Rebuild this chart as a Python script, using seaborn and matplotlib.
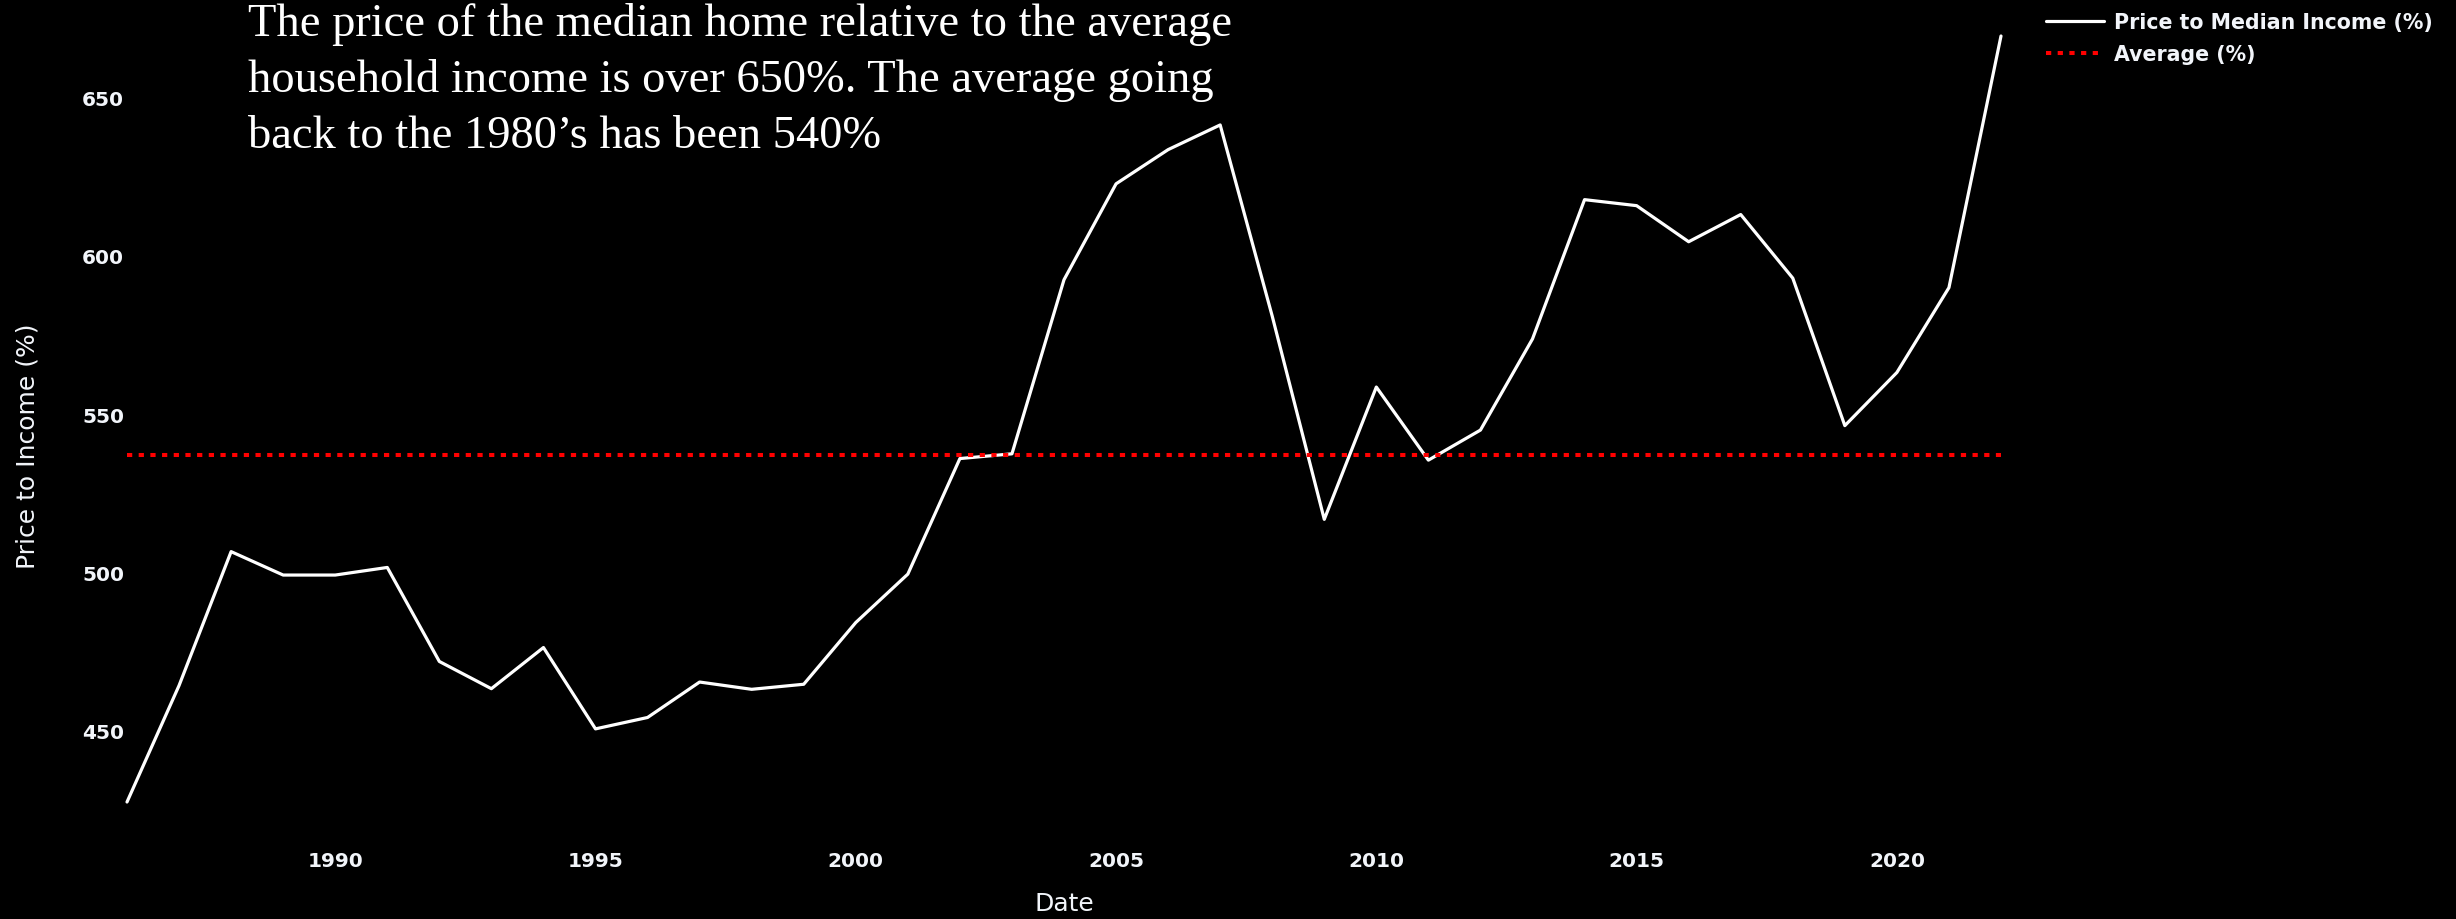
import numpy as np
import pandas as pd
import matplotlib
matplotlib.use("Agg")
import matplotlib.pyplot as plt
import seaborn as sns

# Annual price-to-income ratio (%) of the median home vs. household income
years = list(range(1986, 2023))
price_to_income = [427.5, 464.3, 506.6, 499.2, 499.2, 501.6, 471.9, 463.3, 476.3, 450.6,
                   454.2, 465.4, 463.1, 464.7, 484.2, 499.5, 536.0, 537.5, 592.5, 622.8,
                   633.6, 641.4, 581.0, 516.8, 558.6, 535.5, 545.0, 573.8, 617.8, 615.9,
                   604.5, 613.1, 593.0, 546.4, 563.2, 590.0, 669.5]
x_ticks = [1990, 1995, 2000, 2005, 2010, 2015, 2020]
y_ticks = [450, 500, 550, 600, 650]

series_label = "Price to Median Income (%)"
avg_label = "Average (%)"
x_title = "Date"
y_title = "Price to Income (%)"
note_lines = [
    "The price of the median home relative to the average",
    "household income is over 650%. The average going",
    "back to the 1980\u2019s has been 540%",
]

FG = "#f2f5fa"
W, H = 2456, 920

sns.set_theme(style="dark", rc={
    "figure.facecolor": "black", "axes.facecolor": "black",
    "savefig.facecolor": "black", "axes.grid": False,
    "axes.edgecolor": "black", "text.color": FG,
    "xtick.color": FG, "ytick.color": FG, "axes.labelcolor": FG,
})
plt.rcParams["font.family"] = ["DejaVu Sans"]

df = pd.DataFrame({"Date": years, "ratio": price_to_income})
df["average"] = np.mean(price_to_income)

fig = plt.figure(figsize=(W / 100, H / 100), dpi=100)
left, right, top, bottom = 127, 2001, 37, 803
ax = fig.add_axes([left / W, 1 - bottom / H, (right - left) / W, (bottom - top) / H])

sns.lineplot(data=df, x="Date", y="ratio", ax=ax, color="white",
             linewidth=2.3, label=series_label, clip_on=False)
sns.lineplot(data=df, x="Date", y="average", ax=ax, color="#ff0000",
             linewidth=2.9, linestyle=(0, (1.3, 1.6)), label=avg_label, clip_on=False)

ax.set_xlim(min(years), max(years))
ax.set_ylim(min(price_to_income), max(price_to_income))
for s in ax.spines.values():
    s.set_visible(False)

ax.set_xticks(x_ticks)
ax.set_yticks(y_ticks)
ax.tick_params(axis="both", length=0, labelsize=14.5)
ax.tick_params(axis="x", pad=35)
ax.tick_params(axis="y", pad=2)
for lab in ax.get_xticklabels() + ax.get_yticklabels():
    lab.set_fontweight("bold")

# axis titles placed in figure coordinates
ax.set_xlabel("")
ax.set_ylabel("")
fig.text(1064 / W, 1 - 904 / H, x_title, fontsize=18, color=FG,
         ha="center", va="center")
fig.text(28 / W, 1 - 446 / H, y_title, fontsize=18, color=FG,
         ha="center", va="center", rotation=90)

handles, labels = ax.get_legend_handles_labels()
ax.get_legend().remove()
fig.legend(handles, labels, loc="upper left",
           bbox_to_anchor=(2046 / W, 1 - 13.5 / H), bbox_transform=fig.transFigure,
           frameon=False, prop={"size": 14.8, "weight": "bold"},
           handlelength=2.8, handletextpad=0.5, labelspacing=0.55,
           borderpad=0, borderaxespad=0, labelcolor=FG)

baselines = [36, 92, 148]
for line, b in zip(note_lines, baselines):
    fig.text(248 / W, 1 - b / H, line, color="white", fontsize=33.5,
             family=["Liberation Serif", "DejaVu Serif"], va="baseline", ha="left")

fig.savefig("out.png", dpi=100, facecolor="black")
